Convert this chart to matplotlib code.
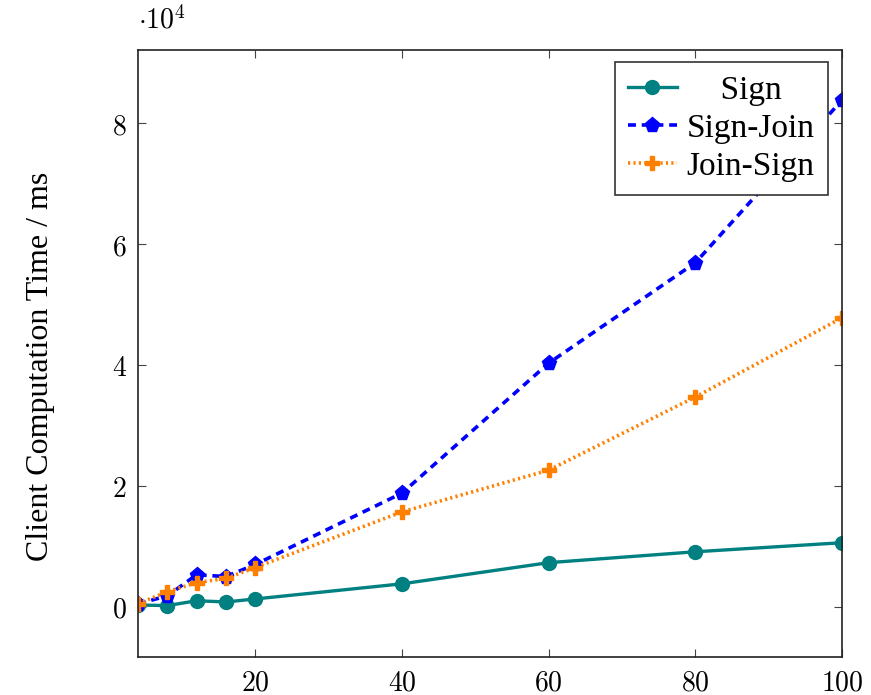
import matplotlib
matplotlib.use("Agg")
import matplotlib.pyplot as plt
from matplotlib.ticker import FuncFormatter

plt.rcParams["mathtext.fontset"] = "cm"

# Number of participants vs. client-side computation time (ms)
x_vals = [4, 8, 12, 16, 20, 40, 60, 80, 100]
sign = [300, 200, 1000, 800, 1300, 3800, 7300, 9100, 10600]
sign_join = [500, 1800, 5300, 5000, 7000, 18800, 40300, 56900, 83800]
join_sign = [500, 2500, 4000, 4700, 6500, 15700, 22600, 34700, 47800]

x_ticks = [20, 40, 60, 80, 100]
y_ticks = [0, 20000, 40000, 60000, 80000]
series_labels = ["    Sign", "Sign-Join", "Join-Sign"]

fig = plt.figure(figsize=(8.71, 6.95), dpi=100)
ax = fig.add_axes([0.1584, 0.0547, 0.8083, 0.8734])

teal = "#008080"
blue = "#0000ff"
orange = "#ff8000"

ax.plot(x_vals, sign, color=teal, lw=2.4, marker="o", ms=10,
        label=series_labels[0])
ax.plot(x_vals, sign_join, color=blue, lw=2.6, ls=(0, (2.2, 1.6)),
        marker="p", ms=11, label=series_labels[1])
ax.plot(x_vals, join_sign, color=orange, lw=2.6, ls=(0, (0.6, 0.9)),
        marker="P", ms=10, label=series_labels[2])

ax.set_xlim(4, 100)
ax.set_ylim(-8300, 92100)
ax.set_xticks(x_ticks)
ax.set_yticks(y_ticks)
ax.xaxis.set_major_formatter(FuncFormatter(lambda v, p: f"${v:g}$"))
ax.yaxis.set_major_formatter(FuncFormatter(lambda v, p: f"${v / 1e4:g}$"))
ax.tick_params(direction="in", length=6, width=0.8, top=True, right=True,
               labelsize=20, pad=8, colors="#444444", labelcolor="black")
for s in ax.spines.values():
    s.set_linewidth(1.2)
    s.set_color("#222222")

ax.text(0.0, 1.025, r"$\cdot 10^{4}$", transform=ax.transAxes,
        fontsize=20, ha="left", va="bottom")

ax.set_ylabel("Client Computation Time / ms", fontsize=23,
              family="Liberation Serif")
ax.yaxis.set_label_coords(-0.118, 0.478)

leg = ax.legend(loc="upper right", bbox_to_anchor=(0.98, 0.98),
                borderaxespad=0, fancybox=False, framealpha=1,
                edgecolor="#333333", handlelength=1.45,
                handletextpad=0.3, borderpad=0.4, labelspacing=0.22,
                prop={"family": "Liberation Serif", "size": 24})
leg.get_frame().set_linewidth(1.2)

fig.savefig("out.png", dpi=100)
